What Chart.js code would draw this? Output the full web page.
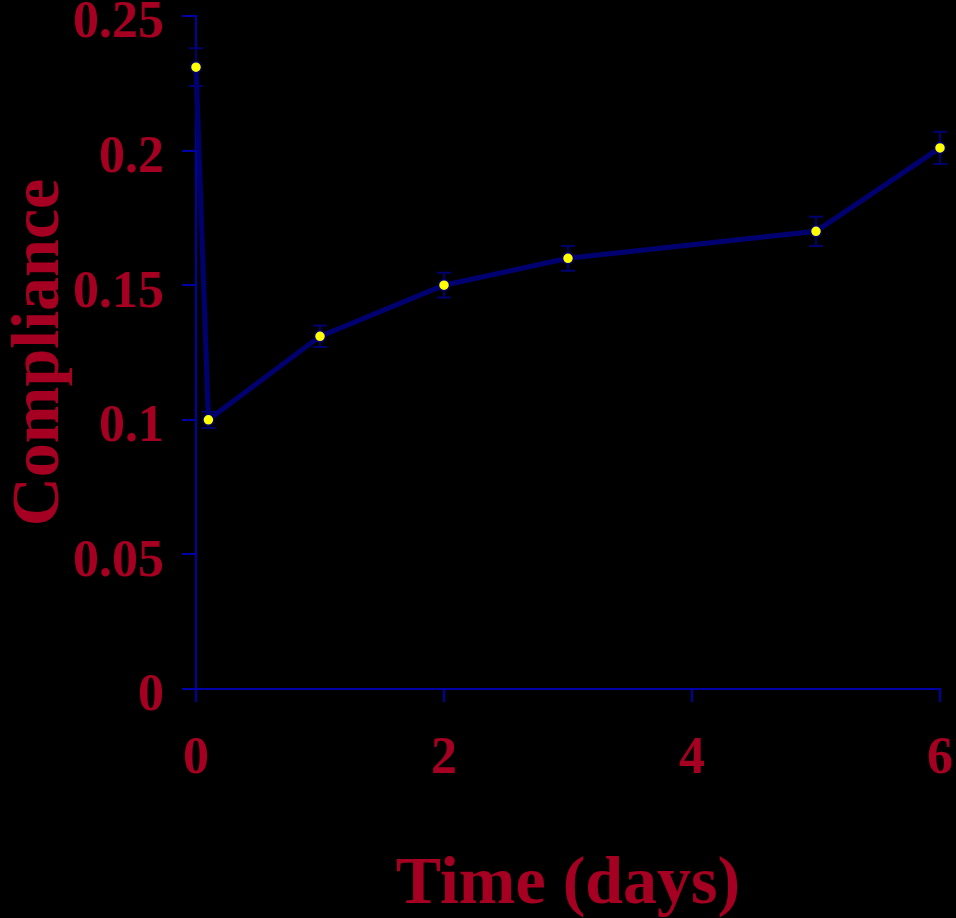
<!DOCTYPE html>
<html>
<head>
<meta charset="utf-8">
<title>Compliance over time</title>
<script src="https://cdn.jsdelivr.net/npm/chart.js@4/dist/chart.umd.min.js"></script>
<style>
  html, body { margin: 0; padding: 0; background: #000; }
  canvas { display: block; }
</style>
</head>
<body>
<canvas id="chart" width="956" height="918"></canvas>
<script>
document.addEventListener('DOMContentLoaded', function() {

    // values
    const days = [0, 0.1, 1, 2, 3, 5, 6];
    const compliance = [0.231, 0.1, 0.131, 0.15, 0.16, 0.17, 0.201];
    const errors = [0.007, 0.003, 0.004, 0.0046, 0.0046, 0.0054, 0.006];
    const yTicks = [0, 0.05, 0.1, 0.15, 0.2, 0.25];
    const xTicks = [0, 2, 4, 6];

    const red = '#A50021';
    const axisBlue = '#0000A8';
    const navy = '#000070';

    // vertical error bars with caps, drawn under the line
    const errorBars = {
        id: 'errorBars',
        beforeDatasetsDraw(chart) {
            const ctx = chart.ctx;
            const xs = chart.scales.x, ys = chart.scales.y;
            ctx.save();
            ctx.strokeStyle = navy;
            ctx.lineWidth = 2;
            days.forEach((d, i) => {
                const x = xs.getPixelForValue(d);
                const top = ys.getPixelForValue(compliance[i] + errors[i]);
                const bot = ys.getPixelForValue(compliance[i] - errors[i]);
                ctx.beginPath();
                ctx.moveTo(x, top); ctx.lineTo(x, bot);
                ctx.moveTo(x - 7, top); ctx.lineTo(x + 7, top);
                ctx.moveTo(x - 7, bot); ctx.lineTo(x + 7, bot);
                ctx.stroke();
            });
            ctx.restore();
        }
    };

    const font = (size) => ({ family: '"Liberation Serif", "Times New Roman", serif', weight: 'bold', size: size });

    new Chart(document.getElementById('chart').getContext('2d'), {
        type: 'line',
        data: {
            datasets: [{
                label: 'Compliance',
                data: days.map((d, i) => ({ x: d, y: compliance[i] })),
                borderColor: navy,
                borderWidth: 5,
                pointBackgroundColor: '#FFFF00',
                pointBorderColor: navy,
                pointBorderWidth: 1.5,
                pointRadius: 5.5,
                tension: 0,
                fill: false,
                clip: false
            }]
        },
        options: {
            responsive: false,
            animation: false,
            layout: { padding: { top: 16, right: 16, left: 0, bottom: 0 } },
            plugins: { legend: { display: false }, tooltip: { enabled: false } },
            scales: {
                x: {
                    type: 'linear',
                    min: 0,
                    max: 6,
                    afterBuildTicks: (scale) => { scale.ticks = xTicks.map(v => ({ value: v })); },
                    afterFit: (scale) => { scale.height = 229; scale.paddingLeft = 0; scale.paddingRight = 0; },
                    grid: { drawOnChartArea: false, color: axisBlue, lineWidth: 2, tickLength: 13 },
                    border: { color: axisBlue, width: 2 },
                    ticks: { color: red, font: font(52), padding: 26, maxRotation: 0 },
                    title: { display: true, text: 'Time (days)', color: red, font: font(68), padding: { top: 0, bottom: -8 } }
                },
                y: {
                    min: 0,
                    max: 0.25,
                    afterBuildTicks: (scale) => { scale.ticks = yTicks.map(v => ({ value: v })); },
                    afterFit: (scale) => { scale.width = 196; scale.paddingTop = 0; scale.paddingBottom = 0; },
                    grid: { drawOnChartArea: false, color: axisBlue, lineWidth: 2, tickLength: 14 },
                    border: { color: axisBlue, width: 2 },
                    ticks: { color: red, font: font(52), padding: 18, labelOffset: 8, callback: (v) => String(v) },
                    title: { display: true, text: 'Compliance', color: red, font: font(68), padding: { top: 0, bottom: 0 } }
                }
            }
        },
        plugins: [errorBars]
    });
});
</script>
</body>
</html>
